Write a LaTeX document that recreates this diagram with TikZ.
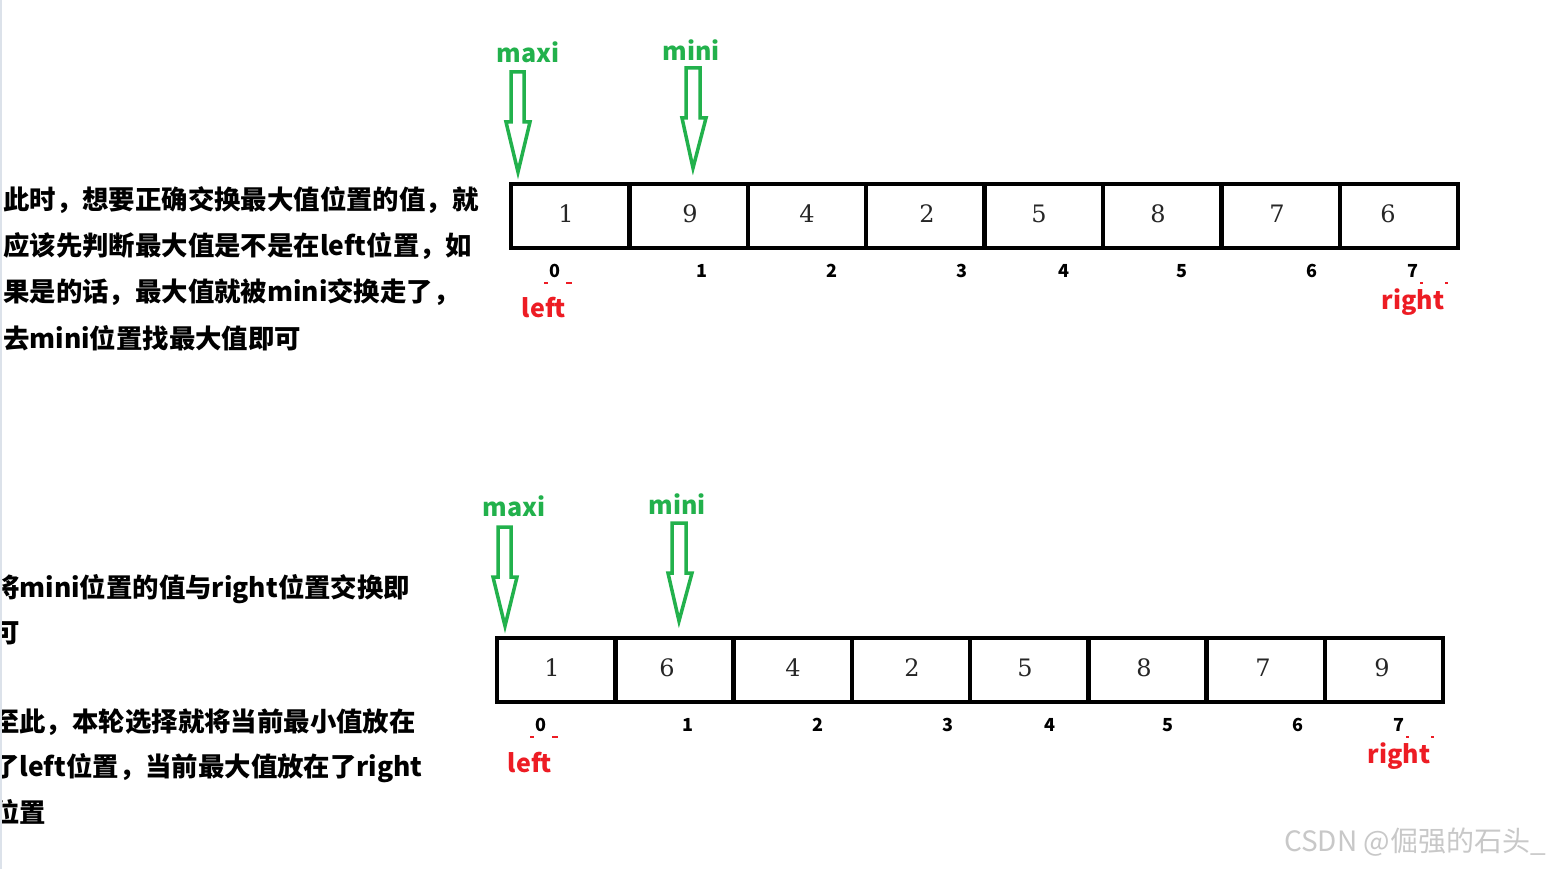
\documentclass[tikz,border=0pt]{standalone}
\usepackage{fontspec}
\newfontfamily\cjk{Noto Sans CJK SC}
\newfontfamily\numfont{DejaVu Serif}
\definecolor{pgreen}{RGB}{34,177,76}
\definecolor{pred}{RGB}{237,28,36}
\definecolor{wm}{RGB}{200,200,200}
\definecolor{edge}{RGB}{220,226,234}
\tikzset{
  cellbox/.style={draw=black,line width=4.5pt,minimum width=118.4pt,minimum height=64pt,inner sep=0pt},
  num/.style={font=\numfont\fontsize{24}{28}\selectfont,text=black!85,inner sep=0pt},
  idx/.style={font=\cjk\bfseries\fontsize{18}{20}\selectfont,inner sep=0pt},
  ptrlabel/.style={font=\cjk\bfseries\fontsize{25}{28}\selectfont,text=pgreen,inner sep=0pt},
  endlabel/.style={font=\cjk\bfseries\fontsize{25}{28}\selectfont,text=pred,inner sep=0pt},
  para/.style={font=\cjk\bfseries\fontsize{26.4}{30}\selectfont,anchor=west,inner sep=0pt},
  ptrarrow/.style={draw=pgreen,fill=white,line width=3.5pt,line join=miter},
  tick/.style={draw=pred,line width=2pt}
}
\begin{document}
\begin{tikzpicture}[x=1pt,y=-1pt]
\useasboundingbox (0,0) rectangle (1560,869);
\fill[white] (0,0) rectangle (1560,869);
\draw[edge,line width=2.5pt] (1,0) -- (1,869);

% ---------- top ----------
\foreach \i/\v/\nx/\ix in {0/1/566/555,1/9/690/702,2/4/807/832,3/2/927/962,4/5/1039/1064,5/8/1158/1182,6/7/1277/1312,7/6/1388/1413}{
  \node[cellbox] (t\i) at ({570.2+118.4*\i},216) {};
  \node[num] (tv\i) at (\nx,214) {\v};
  \node[idx] (ti\i) at (\ix,271) {\i};
}
\node[ptrlabel] (tmaxi) at (528,52) {maxi};
\node[ptrlabel] (tmini) at (691,50) {mini};
\draw[ptrarrow] (511,72) -- (524,72) -- (524,122) -- (530,122) -- (518,172) -- (506,122) -- (511,122) -- cycle;
\draw[ptrarrow] (686,68) -- (700,68) -- (700,118) -- (706,118) -- (693,168) -- (682,118) -- (686,118) -- cycle;
\node[endlabel] (tleft) at (544,308) {left};
\node[endlabel] (tright) at (1413,302) {right};
\draw[tick] (544,283) -- (548,283);
\draw[tick] (566,283) -- (572,283);
\draw[tick] (1420,283) -- (1423,283);
\draw[tick] (1445,283) -- (1448,283);

\node[para] (p1) at (3,200) {此时，想要正确交换最大值位置的值，就};
\node[para] (p2) at (3,246) {应该先判断最大值是不是在left位置，如};
\node[para] (p3) at (3,292) {果是的话，最大值就被mini交换走了，};
\node[para] (p4) at (3,338) {去mini位置找最大值即可};

% ---------- bottom ----------
\foreach \i/\v/\nx/\ix in {0/1/552/541,1/6/667/688,2/4/793/818,3/2/912/948,4/5/1025/1050,5/8/1144/1168,6/7/1263/1298,7/9/1382/1399}{
  \node[cellbox] (b\i) at ({556.2+118.25*\i},670) {};
  \node[num] (bv\i) at (\nx,668) {\v};
  \node[idx] (bi\i) at (\ix,725) {\i};
}
\node[ptrlabel] (bmaxi) at (514,506) {maxi};
\node[ptrlabel] (bmini) at (677,504) {mini};
\draw[ptrarrow] (498,527) -- (511,527) -- (511,577) -- (517,577) -- (505,626) -- (493,577) -- (498,577) -- cycle;
\draw[ptrarrow] (672,523) -- (686,523) -- (686,573) -- (692,573) -- (679,621) -- (668,573) -- (672,573) -- cycle;
\node[endlabel] (bleft) at (530,763) {left};
\node[endlabel] (bright) at (1399,756) {right};
\draw[tick] (530,737) -- (534,737);
\draw[tick] (552,737) -- (558,737);
\draw[tick] (1406,737) -- (1409,737);
\draw[tick] (1431,737) -- (1434,737);

\begin{scope}
\clip (2,0) rectangle (1560,869);
\node[para] (q1) at (-7,589) {将mini位置的值与right位置交换即};
\node[para] (q2) at (-7,633) {可};
\node[para] (q3) at (-7,722) {至此，本轮选择就将当前最小值放在};
\node[para] (q4) at (-7,768) {了left位置，当前最大值放在了right};
\node[para] (q5) at (-7,812) {位置};
\end{scope}

\node[font=\cjk\fontsize{28}{30}\selectfont,text=wm,inner sep=0pt] (wmk) at (1415,842) {CSDN @倔强的石头\_};
\end{tikzpicture}
\end{document}
